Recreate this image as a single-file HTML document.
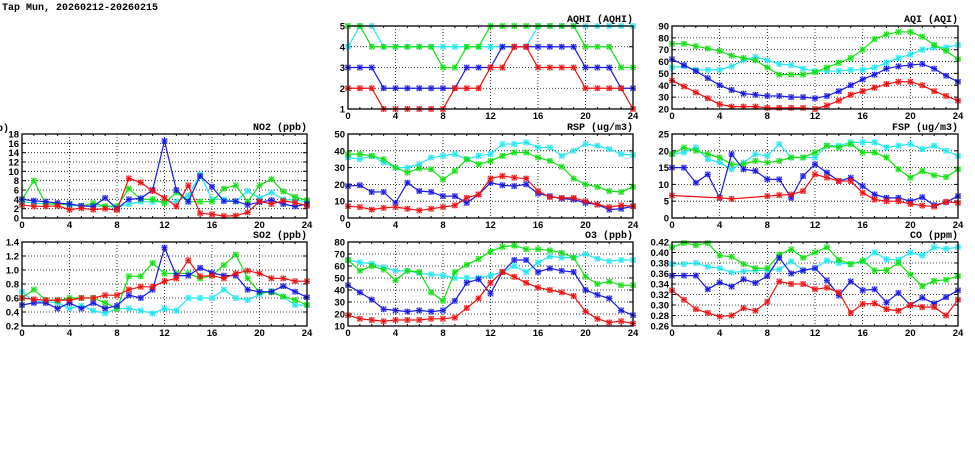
<!DOCTYPE html>
<html><head><meta charset="utf-8"><style>
body{margin:0;background:#fff;width:975px;height:447px;overflow:hidden}
svg text{font-family:"Liberation Sans",sans-serif;font-weight:bold;font-size:9.5px;fill:#000}
svg text.m{font-family:"Liberation Mono",monospace;font-size:10px}
</style></head><body>
<svg id="s" width="975" height="447" xmlns="http://www.w3.org/2000/svg">
<text class="m" x="2" y="10">Tap Mun, 20260212-20260215</text>
<text class="m" x="-3" y="131">b)</text>
</svg>
<script>
const S=document.getElementById('s');const NS='http://www.w3.org/2000/svg';
function el(t,a,txt){const e=document.createElementNS(NS,t);for(const k in a)e.setAttribute(k,a[k]);if(txt!==undefined)e.textContent=txt;S.appendChild(e);return e;}
const C={c:'#20e8f0',g:'#10e010',b:'#1818e8',r:'#f01010'};
function panel(x0,x1,y0,y1,title,ymin,ymax,step,dec,data){
  const X=h=>x0+(x1-x0)*h/24, Y=v=>y1-(y1-y0)*(v-ymin)/(ymax-ymin);
  const n=Math.round((ymax-ymin)/step);
  for(let i=0;i<=n;i++){const v=ymin+i*step,y=Y(v);
    if(i>0&&i<n)el('line',{x1:x0,x2:x1,y1:y,y2:y,stroke:'#000','stroke-width':0.8,'stroke-dasharray':'1,2'});
    el('line',{x1:x0,x2:x0+4,y1:y,y2:y,stroke:'#000'});el('line',{x1:x1-4,x2:x1,y1:y,y2:y,stroke:'#000'});
    el('text',{x:x0-3,y:y+3.5,'text-anchor':'end'},v.toFixed(dec));}
  for(let h=0;h<=24;h+=4){const x=X(h);
    if(h>0&&h<24)el('line',{x1:x,x2:x,y1:y0,y2:y1,stroke:'#000','stroke-width':0.8,'stroke-dasharray':'1,2'});
    el('text',{x:x,y:y1+10,'text-anchor':'middle'},h);}
  for(let h=1;h<24;h++){if(h%4){const x=X(h);el('line',{x1:x,x2:x,y1:y1,y2:y1-2,stroke:'#000'});el('line',{x1:x,x2:x,y1:y0,y2:y0+2,stroke:'#000'});}}
  for(const k of ['c','g','b','r']){const d=data[k];const pts=[];d.forEach((v,h)=>{if(v!==null)pts.push([X(h),Y(v)]);});
    el('polyline',{points:pts.map(p=>p.join(',')).join(' '),fill:'none',stroke:C[k],'stroke-width':1.2});
    for(const [px,py] of pts){el('path',{d:`M${px-2.5},${py-2.5}L${px+2.5},${py+2.5}M${px-2.5},${py+2.5}L${px+2.5},${py-2.5}M${px-3},${py}L${px+3},${py}M${px},${py-3}L${px},${py+3}`,stroke:C[k],'stroke-width':1});
      el('rect',{x:px-2.5,y:py-2.5,width:5,height:5,fill:'none',stroke:C[k],'stroke-width':0.6,opacity:0.5});}}
  el('rect',{x:x0,y:y0,width:x1-x0,height:y1-y0,fill:'none',stroke:'#000','stroke-width':1.3});
  el('text',{x:x1,y:y0-4,'text-anchor':'end',class:'m'},title);
}
const cx=[[22,307],[348,633],[672,958]],ry=[[26,109],[134,218],[242,326]];
panel(...cx[1],...ry[0],'AQHI (AQHI)',1,5,1,0,{
c:[4,5,5,4,4,4,4,4,4,4,4,4,4,4,4,4,5,5,5,5,5,5,5,5,5],
g:[5,5,4,4,4,4,4,4,3,3,4,4,5,5,5,5,5,5,5,5,4,4,4,3,3],
b:[3,3,3,2,2,2,2,2,2,2,3,3,3,4,4,4,4,4,4,4,3,3,3,2,2],
r:[2,2,2,1,1,1,1,1,1,2,2,2,3,3,4,4,3,3,3,3,2,2,2,2,1]});
panel(...cx[2],...ry[0],'AQI (AQI)',20,90,10,0,{
g:[75,75,73,71,69,65,63,61,55,49,49,49,51,55,59,63,70,79,83,85,85,81,74,69,62],
c:[55,56,53,53,53,56,61,64,61,58,57,54,52,52,52,53,53,55,59,63,66,70,72,72,74],
b:[62,57,52,46,40,36,33,32,31,31,30,30,29,31,35,40,45,49,54,56,57,58,54,48,43],
r:[44,39,34,29,24,22,22,22,21,21,21,21,20,23,27,32,35,38,41,43,43,40,35,31,27]});
panel(...cx[0],...ry[1],'NO2 (ppb)',0,18,2,0,{
g:[4,8,3,3,3,2.5,3.2,2.5,2.5,6.3,4,4,3.2,5.5,3.5,3.5,3.5,6.3,7,3.5,7,8.3,5.7,4.5,3.8],
c:[3.5,3.2,3,3,2.8,2.6,2.6,2.5,2.3,3,3.5,3.5,3.5,3.5,4.8,9.3,4,4,3.5,5.8,4.3,5.5,4,3.8,3.5],
b:[4,3.7,3.5,3.2,3,2.6,2.5,4.3,2,4,4.2,6,16.5,6,3.5,9,6.7,3.6,3.6,2.8,3.4,3.8,3,2.5,3],
r:[2.8,2.5,2.5,2.6,1.8,2.1,1.8,2,1.7,8.5,7.6,5.8,4.3,2.5,7,1,0.8,0.4,0.5,1.2,3.6,3,3.7,3.3,2.6]});
panel(...cx[1],...ry[1],'RSP (ug/m3)',0,50,10,0,{
c:[36,35,37,33,30,30,32,36,37,38,35,37,38,44,44,45,42,42,37,40,44,43,41,38,37.5],
g:[38,38,37,35,30,27,29.5,29,23,28,35,32,34,37,39,39,36,34,30.5,23.5,20,18.5,16,15.5,18.5],
b:[19,19.5,15.5,15.5,9,21,16,15.5,13,13,9,14,21,19.5,19,20,14.5,13,11.5,11,9,8,5,5.5,7],
r:[7,6.5,5,6,6.5,5.5,4.5,5.5,6.5,7.5,12,14,23.5,25,24,23.5,16,12.5,12,12,10,8,6.5,7.5,7]});
panel(...cx[2],...ry[1],'FSP (ug/m3)',0,25,5,0,{
c:[19,19.5,21,17.5,16.5,14.5,16.5,19,18.5,22,18,18,18,21.5,21.5,22.5,22.5,22.5,21,21.5,22,20.5,21.5,20,18.5],
g:[19,21,20,19,18,16,16,17,16.5,17,18,18,19.5,21.5,21,22,19.5,19.5,18,14.5,12,14,12.7,12.2,14.5],
b:[15,15,10.5,13,6,19,14.5,14,11.5,11.5,6,12.5,16,13.5,11,12,9.5,7,6,6,5,6.2,3.8,4.7,6.5],
r:[6.7,null,null,null,6,5.7,null,null,6.5,6.8,7,8,13,12,11,11,7.5,5.5,5,5,4.2,3.7,3.4,4.8,4.5]});
panel(...cx[0],...ry[2],'SO2 (ppb)',0.2,1.4,0.2,1,{
g:[0.6,0.72,0.57,0.56,0.6,0.6,0.6,0.53,0.45,0.91,0.91,1.1,0.95,0.95,0.95,0.88,0.92,1.07,1.22,0.88,0.68,0.68,0.62,0.57,0.5],
c:[0.69,0.55,0.55,0.53,0.45,0.49,0.42,0.38,0.45,0.45,0.42,0.38,0.45,0.42,0.6,0.6,0.6,0.72,0.6,0.57,0.65,0.7,0.62,0.5,0.5],
b:[0.5,0.53,0.53,0.45,0.53,0.45,0.53,0.45,0.49,0.64,0.6,0.72,1.32,0.92,0.92,1.03,0.96,0.92,0.92,0.72,0.69,0.69,0.77,0.69,0.61],
r:[0.6,0.58,0.57,0.57,0.57,0.6,0.6,0.64,0.64,0.72,0.76,0.76,0.84,0.88,1.14,0.91,0.92,0.88,0.95,0.99,0.95,0.88,0.88,0.84,0.84]});
panel(...cx[1],...ry[2],'O3 (ppb)',10,80,10,0,{
g:[65,56,60,57,48,56,55,38,31,55,61,66,72,76,77,74,74,73,71,67,51,45,47,44,44],
c:[65,63,62,59,56,56,54,53,52,50,50,50,52,55,60,55,63,68,67,67,70,66,64,65,65],
b:[44,38,32,24,23,22,23,22,23,31,46,49,37,55,65,65,55,58,56,55,40,36,33,23,19],
r:[19,16,15,14,15,15,15,16,16,17,25,33,46,55,51,46,42,40,38,35,22,16,13,14,12]});
panel(...cx[2],...ry[2],'CO (ppm)',0.26,0.42,0.02,2,{
g:[0.41,0.418,0.414,0.418,0.394,0.392,0.378,0.37,0.37,0.396,0.406,0.39,0.4,0.41,0.386,0.378,0.384,0.366,0.366,0.38,0.358,0.336,0.346,0.348,0.355],
c:[0.378,0.378,0.38,0.373,0.37,0.362,0.364,0.366,0.366,0.368,0.383,0.366,0.37,0.385,0.38,0.378,0.383,0.4,0.387,0.386,0.4,0.394,0.41,0.407,0.41],
b:[0.356,0.356,0.356,0.33,0.343,0.335,0.349,0.342,0.355,0.39,0.36,0.366,0.37,0.347,0.318,0.345,0.328,0.33,0.305,0.323,0.3,0.314,0.303,0.315,0.328],
r:[0.328,0.31,0.292,0.285,0.278,0.28,0.294,0.289,0.306,0.345,0.34,0.34,0.33,0.333,0.324,0.285,0.302,0.303,0.292,0.289,0.3,0.296,0.296,0.28,0.31]});
</script>
</body></html>
